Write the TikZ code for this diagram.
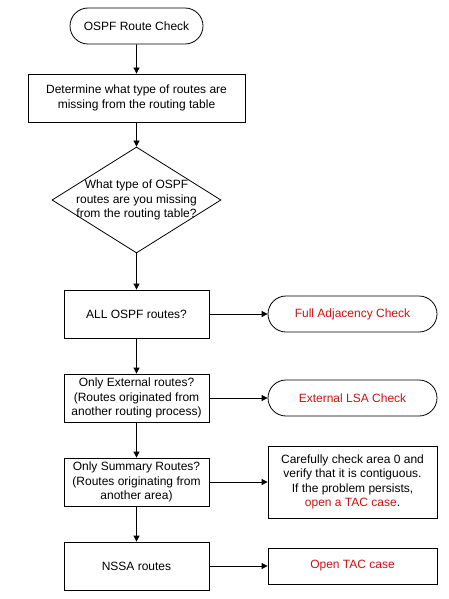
\documentclass[tikz,border=0pt]{standalone}
\usepackage{fontspec}
\setmainfont{Liberation Sans}
\usetikzlibrary{shapes.geometric,shapes.misc,arrows.meta}
\definecolor{tacred}{RGB}{204,17,17}

\begin{document}
\begin{tikzpicture}
[x=1pt,y=-1pt,line width=0.8pt,-{Triangle[length=6pt,width=6pt]},%
  every node/.style={draw,align=center,inner sep=0pt,font=\fontsize{12}{14.5}\selectfont},%
  box/.style={rectangle,minimum width=145pt,minimum height=48pt},%
  term/.style={rounded rectangle,minimum height=36pt},%
  decision/.style={diamond,inner sep=-20pt,minimum width=169pt,minimum height=106pt}]
\useasboundingbox (0,0) rectangle (448,599);
% main column
\node[term,minimum width=133pt] (start) at (136.5,26) {OSPF Route Check};
\node[rectangle,minimum width=217pt,minimum height=48pt] (determine) at (136.5,98)
  {Determine what type of routes are\\missing from the routing table};
\node[decision] (question) at (136.5,200)
  {What type of OSPF\\routes are you missing\\from the routing table?};
\node[box] (all) at (136.5,314) {ALL OSPF routes?};
\node[box] (external) at (136.5,398)
  {Only External routes?\\(Routes originated from\\another routing process)};
\node[box] (summary) at (136.5,482)
  {Only Summary Routes?\\(Routes originating from\\another area)};
\node[box] (nssa) at (136.5,566) {NSSA routes};
% actions
\node[term,minimum width=169pt,text=tacred] (adjacency) at (352.5,314) {Full Adjacency Check};
\node[term,minimum width=169pt,text=tacred] (lsa) at (352.5,398) {External LSA Check};
\node[rectangle,minimum width=169pt,minimum height=72pt] (area) at (352.5,482)
  {Carefully check area 0 and\\verify that it is contiguous.\\If the problem persists,\\\textcolor{tacred}{open a TAC case}.};
\node[rectangle,minimum width=169pt,minimum height=36pt,text=tacred] (tac) at (352.5,566) {Open TAC case};
% connectors
\draw (start) -- (determine);
\draw (determine) -- (question);
\draw (question) -- (all);
\draw (all) -- (external);
\draw (external) -- (summary);
\draw (summary) -- (nssa);
\draw (all) -- (adjacency);
\draw (external) -- (lsa);
\draw (summary) -- (area);
\draw (nssa) -- (tac);
\end{tikzpicture}
\end{document}
